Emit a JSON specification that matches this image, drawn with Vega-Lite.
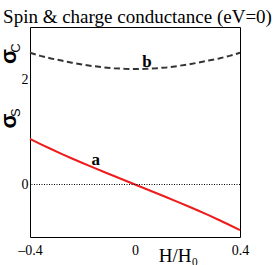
{
  "$schema": "https://vega.github.io/schema/vega-lite/v6.json",
  "width": 210,
  "height": 210,
  "autosize": "none",
  "padding": {"left": 30, "top": 27, "right": 33, "bottom": 28},
  "background": "white",
  "config": {
    "view": {"stroke": "black", "strokeWidth": 1},
    "axis": {"domain": false, "grid": false, "labelFont": "Liberation Serif", "labelFontSize": 14, "labelColor": "black", "tickColor": "black", "ticks": true, "tickWidth": 1}
  },
  "title": {"text": "Spin & charge conductance (eV=0)", "font": "Liberation Serif", "fontSize": 19, "fontWeight": "normal", "color": "black", "anchor": "middle", "frame": "group", "offset": -7, "dx": 2.5},
  "datasets": {
    "a": [
      {"H": -0.4, "v": 0.87}, {"H": -0.36, "v": 0.771}, {"H": -0.32, "v": 0.676}, {"H": -0.28, "v": 0.584},
      {"H": -0.24, "v": 0.495}, {"H": -0.2, "v": 0.409}, {"H": -0.16, "v": 0.325}, {"H": -0.12, "v": 0.242},
      {"H": -0.08, "v": 0.161}, {"H": -0.04, "v": 0.08}, {"H": 0, "v": 0}, {"H": 0.04, "v": -0.08},
      {"H": 0.08, "v": -0.161}, {"H": 0.12, "v": -0.242}, {"H": 0.16, "v": -0.325}, {"H": 0.2, "v": -0.409},
      {"H": 0.24, "v": -0.495}, {"H": 0.28, "v": -0.584}, {"H": 0.32, "v": -0.676}, {"H": 0.36, "v": -0.771},
      {"H": 0.4, "v": -0.87}
    ],
    "b": [
      {"H": -0.4, "v": 2.51}, {"H": -0.36, "v": 2.45}, {"H": -0.32, "v": 2.4}, {"H": -0.28, "v": 2.36},
      {"H": -0.24, "v": 2.32}, {"H": -0.2, "v": 2.285}, {"H": -0.16, "v": 2.255}, {"H": -0.12, "v": 2.23},
      {"H": -0.08, "v": 2.213}, {"H": -0.04, "v": 2.203}, {"H": 0, "v": 2.2}, {"H": 0.04, "v": 2.203},
      {"H": 0.08, "v": 2.213}, {"H": 0.12, "v": 2.23}, {"H": 0.16, "v": 2.255}, {"H": 0.2, "v": 2.285},
      {"H": 0.24, "v": 2.32}, {"H": 0.28, "v": 2.36}, {"H": 0.32, "v": 2.4}, {"H": 0.36, "v": 2.45},
      {"H": 0.4, "v": 2.51}
    ],
    "labels": [{"H": -0.15, "v": 0.46, "t": "a"}, {"H": 0.046, "v": 2.33, "t": "b"}],
    "sigma": [{"H": -0.481, "v": 1.21, "t": "σ"}, {"H": -0.481, "v": 2.44, "t": "σ"}],
    "subs": [{"H": -0.453, "v": 1.37, "t": "S"}, {"H": -0.455, "v": 2.6, "t": "C"}]
  },
  "resolve": {"axis": {"x": "independent", "y": "independent"}},
  "layer": [
    {
      "data": {"name": "b"},
      "mark": {"type": "line", "stroke": "#333333", "strokeWidth": 2, "strokeDash": [6, 3.5]},
      "encoding": {
        "x": {"field": "H", "type": "quantitative", "scale": {"domain": [-0.4, 0.4], "nice": false, "zero": false},
          "axis": {"orient": "bottom", "title": "H/H₀", "titleFont": "Liberation Serif", "titleFontSize": 19, "titleFontWeight": "normal", "titleColor": "black", "titleX": 148, "titleY": 24, "titleBaseline": "alphabetic", "titleAlign": "center",
            "values": [-0.4, -0.32, -0.24, -0.16, -0.08, 0, 0.08, 0.16, 0.24, 0.32, 0.4],
            "labelExpr": "datum.value < -0.35 ? '–0.4' : datum.value > 0.35 ? '0.4' : abs(datum.value) < 0.01 ? '0' : ''",
            "tickSize": 0, "labelPadding": 6, "labelFlush": false, "labelOverlap": false,
            "encode": {"ticks": {"update": {"y2": {"signal": "abs(datum.value) < 0.001 ? -4 : -2.5"}}}}}},
        "y": {"field": "v", "type": "quantitative", "scale": {"domain": [-1, 3], "nice": false, "zero": false},
          "axis": {"orient": "left", "title": null, "values": [-1, -0.5, 0, 0.5, 1, 1.5, 2, 2.5, 3],
            "labelExpr": "datum.value == 0 ? '0' : datum.value == 2 ? '2' : ''",
            "tickSize": 0, "labelPadding": 2, "labelOverlap": false, "labelBaseline": "middle",
            "encode": {"ticks": {"update": {"x2": {"signal": "datum.value == 0 || datum.value == 2 ? 4 : 2.5"}}}}}}
      }
    },
    {
      "data": {"name": "a"},
      "mark": {"type": "line", "stroke": "#ee1c1c", "strokeWidth": 2},
      "encoding": {
        "x": {"field": "H", "type": "quantitative", "scale": {"domain": [-0.4, 0.4], "nice": false, "zero": false},
          "axis": {"orient": "top", "title": null, "labels": false, "values": [-0.4, -0.32, -0.24, -0.16, -0.08, 0, 0.08, 0.16, 0.24, 0.32, 0.4],
            "tickSize": 0, "encode": {"ticks": {"update": {"y2": {"signal": "abs(datum.value) < 0.001 ? 4 : 2.5"}}}}}},
        "y": {"field": "v", "type": "quantitative", "scale": {"domain": [-1, 3], "nice": false, "zero": false},
          "axis": {"orient": "right", "title": null, "labels": false, "values": [-1, -0.5, 0, 0.5, 1, 1.5, 2, 2.5, 3],
            "tickSize": 0, "encode": {"ticks": {"update": {"x2": {"signal": "datum.value == 0 || datum.value == 2 ? -4 : -2.5"}}}}}}
      }
    },
    {
      "data": {"values": [{"z": 0}]},
      "mark": {"type": "rule", "stroke": "black", "strokeWidth": 1, "strokeDash": [1, 1.5]},
      "encoding": {"y": {"field": "z", "type": "quantitative", "axis": null}}
    },
    {
      "data": {"name": "labels"},
      "mark": {"type": "text", "font": "Liberation Serif", "fontSize": 17, "fontWeight": "bold", "color": "black", "align": "center", "baseline": "middle"},
      "encoding": {"x": {"field": "H", "type": "quantitative", "axis": null}, "y": {"field": "v", "type": "quantitative", "axis": null}, "text": {"field": "t"}}
    },
    {
      "data": {"name": "sigma"},
      "mark": {"type": "text", "font": "Liberation Sans", "fontSize": 22, "fontWeight": "bold", "color": "black", "align": "center", "baseline": "middle", "angle": 270},
      "encoding": {"x": {"field": "H", "type": "quantitative", "axis": null}, "y": {"field": "v", "type": "quantitative", "axis": null}, "text": {"field": "t"}}
    },
    {
      "data": {"name": "subs"},
      "mark": {"type": "text", "font": "Liberation Sans", "fontSize": 13, "color": "black", "align": "center", "baseline": "middle", "angle": 270},
      "encoding": {"x": {"field": "H", "type": "quantitative", "axis": null}, "y": {"field": "v", "type": "quantitative", "axis": null}, "text": {"field": "t"}}
    }
  ]
}
